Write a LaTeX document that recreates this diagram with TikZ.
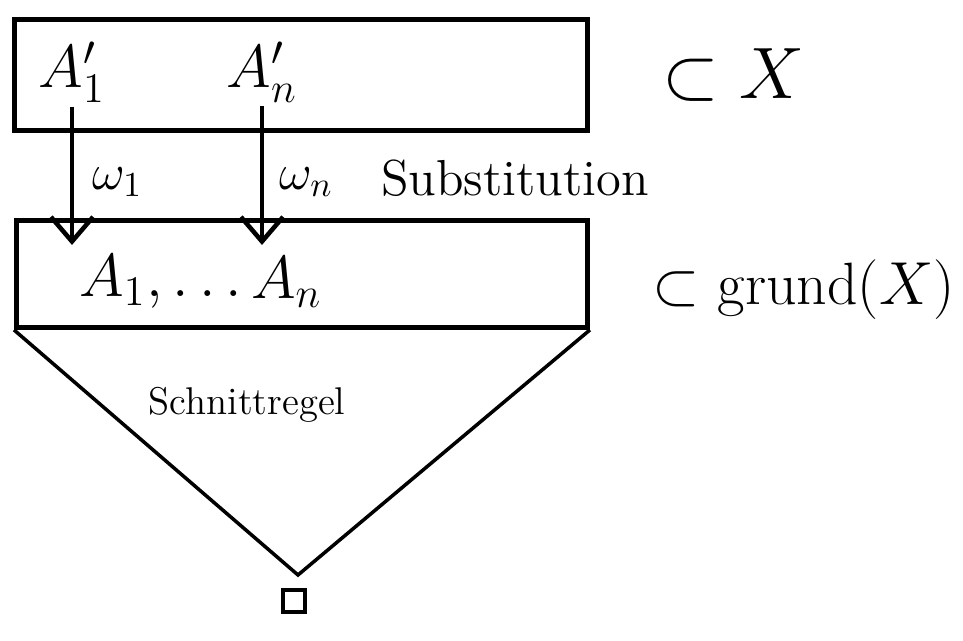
\documentclass[tikz,border=0pt]{standalone}
\usepackage{tikz}
\usetikzlibrary{arrows.meta, positioning, calc}
\usepackage{amssymb}
\usepackage{xcolor}

\tikzset{
  setbox/.style={draw, line width=1.4pt},
  subst/.style={-{Straight Barb[length=7pt, width=12pt]}, line width=1.3pt},
  lbl/.style={inner sep=1pt, font=\fontsize{18}{20}\selectfont},
  side/.style={anchor=west, font=\fontsize{22}{24}\selectfont}
}

\begin{document}
\begin{tikzpicture}
  \useasboundingbox (0,0) rectangle (9.63,-6.41);

  % the two boxes
  \node[setbox, minimum width=5.73cm, minimum height=1.11cm, anchor=north west] (top) at (0.12,-0.17) {};
  \node[setbox, minimum width=5.71cm, minimum height=1.07cm, anchor=north west] (low) at (0.14,-2.18) {};

  % atoms
  \node[lbl] (a1p) at (0.72,-0.72) {$A_1'$};
  \node[lbl] (anp) at (2.62,-0.72) {$A_n'$};
  \node[lbl, anchor=west] (a1) at (0.75,-2.82) {$A_1,\ldots$};
  \node[lbl, right=0pt of a1] (an) {$A_n$};

  % substitution arrows
  \coordinate (t1) at (0.72,-2.45);
  \coordinate (tn) at (2.62,-2.45);
  \draw[subst] (a1p.south) -- (t1);
  \draw[subst] (anp.south) -- (tn);
  \node[font=\Large, anchor=west] (w1) at (0.8,-1.82) {$\omega_1$};
  \node[font=\Large, anchor=west] (wn) at (2.67,-1.82) {$\omega_n$};
  \node[font=\Large] (sub) at (5.15,-1.78) {Substitution};

  % sets on the right
  \node[side] (inx) at (6.5,-0.75) {$\subset X$};
  \node[side, font=\fontsize{17}{20}\selectfont] (ing) at (6.4,-2.9) {$\subset$ grund($X$)};

  % cut rule
  \coordinate (apex) at (2.98,-5.75);
  \draw[line width=1pt] (low.south west) -- (apex) -- (low.south east);
  \node[font=\fontsize{11}{13}\selectfont] (cut) at (2.47,-4.05) {Schnittregel};
  \node[draw, line width=1.4pt, minimum size=0.22cm, inner sep=0pt] (empty) at (2.94,-6.01) {};
\end{tikzpicture}
\end{document}
